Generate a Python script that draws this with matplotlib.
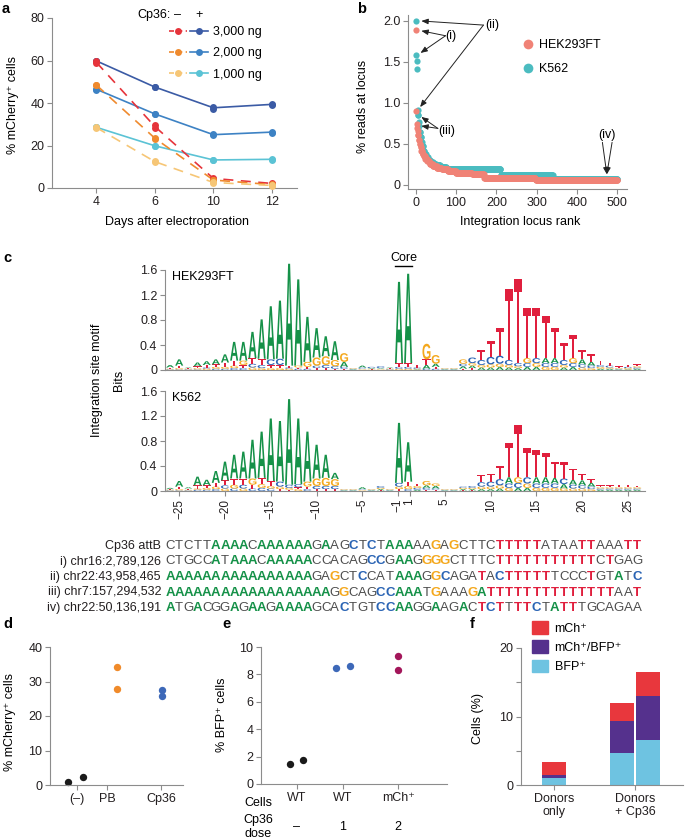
import numpy as np
import matplotlib
matplotlib.use("Agg")
import matplotlib.pyplot as plt
import matplotlib.transforms as mtransforms
from matplotlib.legend_handler import HandlerTuple
from matplotlib.lines import Line2D
from matplotlib.patches import PathPatch, Patch
from matplotlib.textpath import TextPath
from matplotlib.font_manager import FontProperties

plt.rcParams['font.family'] = ['Liberation Sans', 'DejaVu Sans']
plt.rcParams['font.size'] = 9

W, H = 685, 839

# ---------------- data: panel a ----------------
a_days = ['4', '6', '10', '12']
a_doses = ['3,000 ng', '2,000 ng', '1,000 ng']
# two replicates per day
a_plus_3000 = [[60.0, 59.6], [47.6, 47.4], [37.3, 38.2], [39.2, 39.5]]
a_plus_2000 = [[46.3, 46.6], [34.8, 34.9], [25.0, 25.2], [26.1, 26.5]]
a_plus_1000 = [[28.5, 28.6], [19.8, 19.9], [13.1, 13.3], [13.4, 13.6]]
a_minus_3000 = [[59.6, 58.6], [29.6, 28.2], [4.7, 4.3], [2.4, 1.9]]
a_minus_2000 = [[48.5, 48.3], [23.6, 23.2], [3.9, 3.6], [1.7, 1.5]]
a_minus_1000 = [[28.5, 28.3], [12.5, 12.3], [2.7, 2.5], [1.3, 1.1]]

# ---------------- data: panel b (ranked loci, value + run length) ----------------
b_hek_vals = [1.89, 0.90, 0.74, 0.70, 0.66, 0.61, 0.55, 0.50, 0.46, 0.42, 0.38, 0.35,
              0.32, 0.29, 0.26, 0.23, 0.21, 0.19, 0.17, 0.15, 0.13, 0.09, 0.055]
b_hek_runs = [1, 1, 1, 1, 1, 2, 2, 2, 2, 3, 3, 4, 5, 6, 8, 10, 12, 15, 20, 40, 30, 128, 203]
b_k562_vals = [2.0, 1.58, 1.51, 1.41, 0.91, 0.85, 0.77, 0.72, 0.65, 0.58, 0.52, 0.47,
               0.42, 0.38, 0.34, 0.31, 0.28, 0.26, 0.24, 0.22, 0.20, 0.125, 0.075]
b_k562_runs = [1, 1, 1, 1, 1, 2, 1, 1, 2, 2, 2, 3, 3, 4, 5, 5, 7, 8, 10, 15, 135, 130, 160]

# ---------------- data: panel c (logo columns, bottom -> top, letter+bits) ----------------
c_positions = ['\u221225', '\u221220', '\u221215', '\u221210', '\u22125', '\u22121', '1', '5', '10', '15', '20', '25']
c_tick_index = [1, 6, 11, 16, 21, 24.85, 26.15, 30, 35, 40, 45, 50]
c_hek = [
    "C.01 G.01 T.02 A.04", "C.01 G.02 T.04 A.10", "C.01 G.01 T.01 A.01", "C.01 G.02 T.03 A.06",
    "G.02 C.02 T.04 A.06", "C.02 G.03 T.04 A.08", "C.02 G.03 T.07 A.13", "C.03 G.04 T.08 A.30",
    "C.03 T.05 G.07 A.30", "G.04 C.06 T.09 A.42", "G.03 C.05 T.10 A.63", "G.03 T.05 C.09 A.85",
    "G.03 T.05 C.10 A.93", "G.02 C.02 T.03 A1.63", "C.02 T.02 G.03 A1.38", "C.02 T.03 G.08 A.72",
    "T.03 C.04 G.13 A.47", "T.03 C.05 G.14 A.32", "T.02 C.04 G.10 A.30", "T.02 C.03 A.08 G.14",
    "A.01 C.01 G.01 T.01", "G.01 T.01 C.02 A.03", "T.01 G.01 A.01 C.02", "G.01 T.01 A.01 C.03",
    "C.01 G.01 T.01 A.01", "G.02 C.03 T.06 A1.30",
    "G.02 C.03 T.06 A1.43", "A.01 G.01 C.02 T.04", "C.02 A.06 T.09 G.25", "C.02 T.03 A.05 G.14",
    "A.01 C.01 G.01 T.01", "A.01 C.01 G.01 T.01", "T.02 A.04 C.04 G.07", "T.03 A.04 G.04 C.09",
    "A.04 G.04 C.08 T.16", "A.04 G.05 C.12 T.25", "A.05 G.05 C.13 T.45", "A.04 G.04 C.08 T1.13",
    "A.03 G.03 C.05 T1.35", "A.05 C.06 G.08 T.80", "A.05 G.06 C.08 T.81", "G.05 C.06 A.08 T.67",
    "G.05 C.06 A.08 T.49", "A.04 G.04 C.08 T.27", "A.05 C.06 G.08 T.37", "G.04 C.05 A.08 T.15",
    "G.03 C.04 A.06 T.12", "A.02 G.03 C.03 T.07", "A.02 G.02 C.03 T.05", "A.01 C.01 G.01 T.03",
    "A.01 G.02 C.02 T.03", "A.02 C.02 G.02 T.03",
]
c_k562 = [
    "C.01 G.01 T.01 A.02", "C.01 G.02 T.04 A.09", "C.01 G.01 T.02 A.02", "C.02 G.02 T.05 A.14",
    "C.02 G.03 T.04 A.09", "C.03 G.04 T.06 A.19", "G.04 C.05 T.08 A.30", "C.04 G.06 T.10 A.38",
    "G.04 C.06 T.10 A.43", "C.04 T.06 G.10 A.62", "C.05 G.06 T.10 A.74", "C.04 G.04 T.08 A1.00",
    "T.03 G.04 C.08 A.97", "T.02 G.03 C.05 A1.37", "G.03 T.03 C.05 A1.05", "C.03 T.04 G.08 A.80",
    "T.03 C.05 G.12 A.54", "T.03 C.05 G.13 A.37", "T.03 C.05 G.11 A.10", "A.01 C.01 G.01 T.01",
    "A.01 C.01 G.01 T.01", "G.01 T.01 C.01 A.03", "A.01 C.01 G.01 T.01", "T.01 A.02 G.02 C.03",
    "A.01 C.01 G.01 T.01", "T.03 G.04 C.06 A.96",
    "C.03 G.05 T.07 A.63", "A.02 C.03 G.03 T.04", "T.02 C.03 A.04 G.07", "T.02 C.02 A.04 G.04",
    "A.01 C.01 G.01 T.01", "A.01 C.01 G.01 T.01", "T.01 A.02 G.02 C.02", "T.01 A.02 G.02 C.03",
    "A.03 G.04 C.07 T.12", "A.03 G.04 C.08 T.13", "A.04 G.05 C.10 T.21", "G.05 C.07 A.10 T.55",
    "A.05 C.08 G.09 T.83", "A.05 G.07 C.10 T.47", "G.05 C.07 A.10 T.43", "G.05 C.07 A.10 T.39",
    "G.05 C.07 A.09 T.26", "G.04 A.07 C.09 T.26", "G.04 C.06 A.08 T.18", "G.04 C.05 A.08 T.10",
    "G.03 C.04 A.06 T.06", "A.02 C.02 G.02 T.03", "A.02 C.02 G.02 T.03", "A.02 C.02 G.02 T.04",
    "A.02 C.02 G.02 T.04", "A.02 C.02 G.02 T.02",
]
c_seq_labels = ['Cp36 attB', 'i) chr16:2,789,126', 'ii) chr22:43,958,465',
                'iii) chr7:157,294,532', 'iv) chr22:50,136,191']
c_seqs = [
    "CTCTTAAAACAAAAAAGAAGCTCTAAAAAGAGCTTCTTTTTATAATTAAATT",
    "CTGCCATAAACAAAAACCACAGCCGAAGGGGCTTTCTTTTTTTTTTTCTGAG",
    "AAAAAAAAAAAAAAAAGAGCTCCATAAAGGCAGATACTTTTTTCCCTGTATC",
    "AAAAAAAAAAAAAAAAAAGGCAGCCAAATGAAAGATTTTTTTTTTTTTTAAT",
    "ATGACGGAGAAGAAAAGCACTGTCCAAGGAAGACTCTTTTCTATTTGCAGAA",
]
# 1 = highlighted (bold, coloured) base
c_masks = [
    "0000011110111111010010101110010100001111100001100011",
    "0000010111011111000000110110111000001111111111101000",
    "1111111111111111001001000111011000101111110000100101",
    "1111111111111111110100011111010001111111111111111001",
    "1001000101101111000100011110010010111011101110000000",
]

# ---------------- data: panels d, e, f ----------------
d_groups = ['(\u2013)', 'PB', 'Cp36']
d_tick_x = [0, 1, 2.8]
d_x = [[-0.3, 0.2], [1.33, 1.33], [2.83, 2.83]]
d_y = [[0.9, 2.4], [34.1, 27.9], [27.4, 25.8]]

e_cells = ['WT', 'WT', 'mCh\u207a']
e_dose = ['\u2013', '1', '2']
e_tick_x = [0, 1, 2.2]
e_x = [[-0.15, 0.13], [0.85, 1.15], [2.2, 2.2]]
e_y = [[1.45, 1.74], [8.47, 8.6], [9.37, 8.33]]

f_groups = ['Donors\nonly', 'Donors\n+ Cp36']
f_bar_x = [0, 0.84, 1.16]
f_bfp = [1.0, 4.7, 6.5]
f_double = [0.45, 4.65, 6.5]
f_mch = [1.95, 2.6, 3.45]

# ---------------- figure ----------------
fig = plt.figure(figsize=(W / 100, H / 100), dpi=100)
GRAY = '#8c8c8c'
TXT = '#231f20'


def px_axes(x0, top, w, h):
    return fig.add_axes([x0 / W, 1 - (top + h) / H, w / W, h / H])


def fx(x):
    return x / W


def fy(y):
    return 1 - y / H


def style(ax):
    for s in ['top', 'right']:
        ax.spines[s].set_visible(False)
    for s in ['left', 'bottom']:
        ax.spines[s].set_color(GRAY)
        ax.spines[s].set_linewidth(0.8)
    ax.tick_params(color=GRAY, length=3.5, width=0.8, labelcolor=TXT, pad=2, labelsize=9)
    ax.patch.set_alpha(0)


def panel_letter(x, y, s):
    fig.text(fx(x), fy(y), s, fontsize=10.5, fontweight='bold', va='top', ha='left', color='black')


# ---- a ----
ax = px_axes(52, 18, 245, 170)
style(ax)
xa = np.arange(len(a_days))
plus_cols = ['#3b5ba5', '#3d82c4', '#5bc3d5']
minus_cols = ['#e6343b', '#ef8a2e', '#f6c676']
plus_series = [a_plus_3000, a_plus_2000, a_plus_1000]
minus_series = [a_minus_3000, a_minus_2000, a_minus_1000]
handles = []
for i in range(3):
    p = np.array(plus_series[i])
    ax.plot(xa, p.mean(axis=1), '-', color=plus_cols[i], lw=1.2, zorder=2)
    ax.plot(np.repeat(xa, 2), p.ravel(), 'o', color=plus_cols[i], ms=5, mec='none', clip_on=False, zorder=3)
for i in range(3):
    m = np.array(minus_series[i])
    ax.plot(xa, m.mean(axis=1), color=minus_cols[i], lw=1.2, dashes=(6, 4.5), zorder=4)
    ax.plot(np.repeat(xa, 2), m.ravel(), 'o', color=minus_cols[i], ms=5, mec='none', clip_on=False, zorder=5)
for i in range(3):
    hm = Line2D([], [], color=minus_cols[i], lw=1.2, dashes=(3, 2), marker='o', ms=5, mec='none')
    hp = Line2D([], [], color=plus_cols[i], lw=1.2, marker='o', ms=5, mec='none')
    handles.append((hm, hp))
ax.legend(handles, a_doses, handler_map={tuple: HandlerTuple(ndivide=None, pad=0.25)},
          loc='upper left', bbox_to_anchor=(fx(169), fy(26)), bbox_transform=fig.transFigure,
          frameon=False, borderpad=0, borderaxespad=0, handlelength=3.1, handletextpad=0.4,
          labelspacing=0.75, fontsize=9)
fig.text(fx(171), fy(15), 'Cp36:', ha='right', va='center')
fig.text(fx(178), fy(15), '\u2013', ha='center', va='center')
fig.text(fx(199), fy(15), '+', ha='center', va='center')
ax.set_xlim(-0.76, 3.43)
ax.set_ylim(0, 80)
ax.set_xticks(xa)
ax.set_xticklabels(a_days)
ax.set_yticks([0, 20, 40, 60, 80])
fig.text(fx(13), fy(105), '% mCherry\u207a cells', rotation=90, ha='center', va='center')
fig.text(fx(177), fy(222), 'Days after electroporation', ha='center', va='center')
panel_letter(2, 2, 'a')

# ---- b ----
ax = px_axes(408, 15, 219, 174)
style(ax)
yk = np.repeat(b_k562_vals, b_k562_runs)
yh = np.repeat(b_hek_vals, b_hek_runs)
ax.scatter(np.arange(1, len(yk) + 1), yk, s=20, color='#4bbcc0', lw=0, zorder=2)
ax.scatter(np.arange(1, len(yh) + 1), yh, s=20, color='#f08276', lw=0, zorder=3)
ax.set_xlim(-19, 524)
ax.set_ylim(-0.049, 2.073)
ax.set_xticks([0, 100, 200, 300, 400, 500])
ax.set_yticks([0, 0.5, 1.0, 1.5, 2.0])
ax.set_yticklabels(['0', '0.5', '1.0', '1.5', '2.0'])
arw = dict(arrowstyle='-|>,head_length=0.45,head_width=0.18', color='#222222', lw=0.7,
           shrinkA=0, shrinkB=0)
for txt, tpos, starts, tips in [
        ('(ii)', (190, 1.95), [(168, 1.95)], [(14, 2.0), (11, 0.95)]),
        ('(i)', (88, 1.82), [(74, 1.82)], [(14, 1.88), (12, 1.61)]),
        ('(iii)', (78, 0.66), [(55, 0.69)], [(14, 0.83), (14, 0.72)]),
        ('(iv)', (474, 0.61), [(463, 0.52), (487, 0.52)], [(474, 0.13)])]:
    ax.text(tpos[0], tpos[1], txt, ha='center', va='center', fontsize=9)
    if len(starts) == 1:
        pairs = [(starts[0], t) for t in tips]
    else:
        pairs = [(s, tips[0]) for s in starts]
    for s, t in pairs:
        ax.annotate('', xy=t, xytext=s, arrowprops=arw, annotation_clip=False)
bh = [Line2D([], [], ls='none', marker='o', ms=7, color='#f08276', mec='none'),
      Line2D([], [], ls='none', marker='o', ms=7, color='#4bbcc0', mec='none')]
ax.legend(bh, ['HEK293FT', 'K562'], loc='upper left', bbox_to_anchor=(fx(522), fy(39)),
          bbox_transform=fig.transFigure, frameon=False, borderpad=0, borderaxespad=0,
          handlelength=1.0, handletextpad=0.4, labelspacing=0.95, fontsize=9)
fig.text(fx(363), fy(106), '% reads at locus', rotation=90, ha='center', va='center')
fig.text(fx(520), fy(222), 'Integration locus rank', ha='center', va='center')
panel_letter(357, 2, 'b')

# ---- c ----
logo_colors = {'A': '#159148', 'C': '#2a64b4', 'G': '#f4a81d', 'T': '#e01f3d'}
fp = FontProperties(family='Liberation Sans', weight='bold')
glyph = {ch: TextPath((0, 0), ch, size=1, prop=fp) for ch in 'ACGT'}


def draw_logo(ax, cols):
    for i, col in enumerate(cols):
        y = 0.0
        for tok in col.split():
            ch, h = tok[0], float(tok[1:])
            path = glyph[ch]
            bb = path.get_extents()
            tr = (mtransforms.Affine2D().translate(-bb.x0, -bb.y0)
                  .scale(0.88 / bb.width, h / bb.height).translate(i - 0.44, y))
            ax.add_patch(PathPatch(tr.transform_path(path), fc=logo_colors[ch], ec='none',
                                   lw=0, clip_on=False))
            y += h


logo_axes = []
for top, cols, name in [(270, c_hek, 'HEK293FT'), (391, c_k562, 'K562')]:
    ax = px_axes(165, top, 480, 100)
    style(ax)
    draw_logo(ax, cols)
    ax.set_xlim(-0.55, 51.86)
    ax.set_ylim(0, 1.6)
    ax.set_yticks([0, 0.4, 0.8, 1.2, 1.6])
    ax.set_yticklabels(['0', '0.4', '0.8', '1.2', '1.6'])
    ax.text(0.015, 0.93, name, transform=ax.transAxes, ha='left', va='center')
    logo_axes.append(ax)
ax_h, ax_k = logo_axes
ax_h.tick_params(axis='x', bottom=False, labelbottom=False)
ax_k.set_xticks(c_tick_index)
ax_k.set_xticklabels(c_positions, rotation=90, fontsize=8.5)
ax_h.plot([24.6, 26.4], [1.66, 1.66], color='black', lw=1.0, clip_on=False)
ax_h.text(25.5, 1.70, 'Core', ha='center', va='bottom')
fig.text(fx(97), fy(380), 'Integration site motif', rotation=90, ha='center', va='center')
fig.text(fx(119), fy(380), 'Bits', rotation=90, ha='center', va='center')

seq_tr = mtransforms.blended_transform_factory(ax_k.transData, fig.transFigure)
row_y = [546, 561.5, 577, 592.5, 608]
for lab, seq, mask, yy in zip(c_seq_labels, c_seqs, c_masks, row_y):
    fig.text(fx(161), fy(yy), lab, ha='right', va='center', fontsize=9, color=TXT)
    for i, ch in enumerate(seq):
        hi = mask[i] == '1'
        ax_k.text(i, fy(yy), ch, transform=seq_tr, ha='center', va='center', fontsize=9.5,
                  color=logo_colors[ch] if hi else '#4d4d4d',
                  fontweight='bold' if hi else 'normal', clip_on=False)
panel_letter(3, 251, 'c')

# ---- d ----
ax = px_axes(50, 647, 133, 138)
style(ax)
d_cols = ['#1a1a1a', '#f08a2a', '#3d68b8']
for xs, ys, c in zip(d_x, d_y, d_cols):
    ax.plot(xs, ys, 'o', color=c, ms=5.3, mec='none', clip_on=False)
ax.set_xlim(-0.9, 3.53)
ax.set_ylim(0, 40)
ax.set_xticks(d_tick_x)
ax.set_xticklabels(d_groups)
ax.set_yticks([0, 10, 20, 30, 40])
fig.text(fx(10), fy(722), '% mCherry\u207a cells', rotation=90, ha='center', va='center')
panel_letter(3, 617, 'd')

# ---- e ----
ax = px_axes(261, 647, 186, 137)
style(ax)
e_cols = ['#1a1a1a', '#3d68b8', '#a3165a']
for xs, ys, c in zip(e_x, e_y, e_cols):
    ax.plot(xs, ys, 'o', color=c, ms=5.3, mec='none', clip_on=False)
ax.set_xlim(-0.78, 3.26)
ax.set_ylim(0, 10)
ax.set_xticks(e_tick_x)
ax.set_xticklabels(e_cells)
ax.set_yticks([0, 2, 4, 6, 8, 10])
e_tr = mtransforms.blended_transform_factory(ax.transData, fig.transFigure)
for xv, dv in zip(e_tick_x, e_dose):
    ax.text(xv, fy(827), dv, transform=e_tr, ha='center', va='center')
fig.text(fx(258), fy(803), 'Cells', ha='center', va='center')
fig.text(fx(258), fy(820), 'Cp36', ha='center', va='center')
fig.text(fx(258), fy(834), 'dose', ha='center', va='center')
fig.text(fx(222), fy(715), '% BFP\u207a cells', rotation=90, ha='center', va='center')
panel_letter(222, 617, 'e')

# ---- f ----
ax = px_axes(521, 648, 162, 137)
style(ax)
c_bfp, c_dbl, c_mch = '#6ec3e1', '#55318d', '#e8373d'
ax.bar(f_bar_x, f_bfp, width=0.3, color=c_bfp, lw=0)
ax.bar(f_bar_x, f_double, width=0.3, bottom=f_bfp, color=c_dbl, lw=0)
ax.bar(f_bar_x, f_mch, width=0.3, bottom=np.add(f_bfp, f_double), color=c_mch, lw=0)
ax.set_xlim(-0.41, 1.59)
ax.set_ylim(0, 20)
ax.set_xticks([0, 1])
ax.set_xticklabels(f_groups)
ax.set_yticks([0, 5, 10, 15, 20])
ax.set_yticklabels(['0', '', '10', '', '20'])
fh = [Patch(color=c_mch), Patch(color=c_dbl), Patch(color=c_bfp)]
ax.legend(fh, ['mCh\u207a', 'mCh\u207a/BFP\u207a', 'BFP\u207a'], loc='upper left',
          bbox_to_anchor=(fx(532), fy(621)), bbox_transform=fig.transFigure, frameon=False,
          borderpad=0, borderaxespad=0, handlelength=1.3, handleheight=1.2,
          handletextpad=0.5, labelspacing=0.45, fontsize=9)
fig.text(fx(478), fy(718), 'Cells (%)', rotation=90, ha='center', va='center')
panel_letter(470, 617, 'f')

fig.savefig('out.png', dpi=100)
